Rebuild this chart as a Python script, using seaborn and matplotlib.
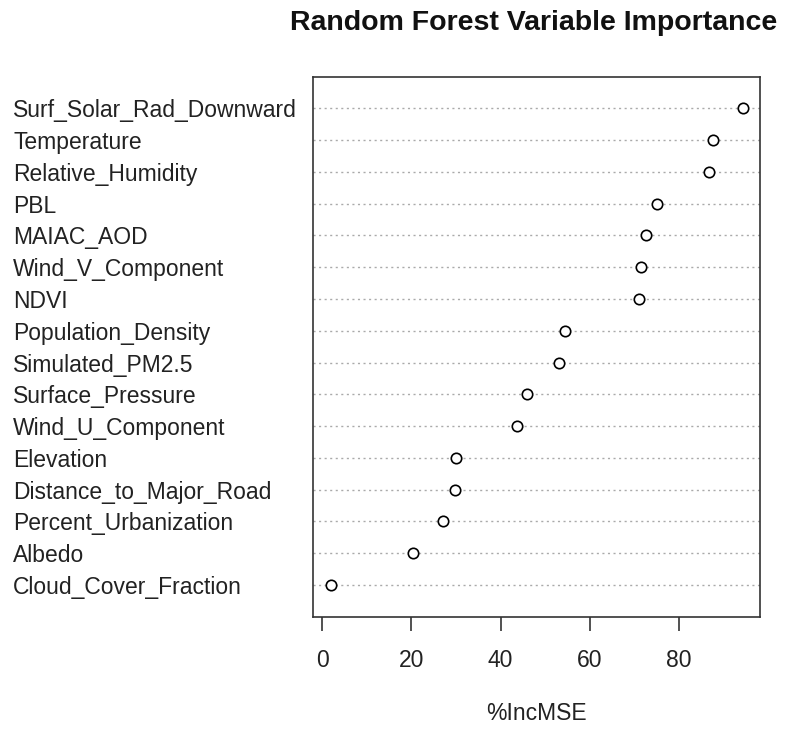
import matplotlib
matplotlib.use("Agg")
import matplotlib.pyplot as plt
import seaborn as sns
import pandas as pd

variables = [
    "Surf_Solar_Rad_Downward", "Temperature", "Relative_Humidity", "PBL",
    "MAIAC_AOD", "Wind_V_Component", "NDVI", "Population_Density",
    "Simulated_PM2.5", "Surface_Pressure", "Wind_U_Component", "Elevation",
    "Distance_to_Major_Road", "Percent_Urbanization", "Albedo",
    "Cloud_Cover_Fraction",
]
inc_mse = [94.4, 87.5, 86.6, 75.0, 72.6, 71.5, 70.9, 54.4,
           53.1, 45.9, 43.6, 30.1, 29.8, 27.1, 20.3, 1.9]
x_ticks = [0, 20, 40, 60, 80]

df = pd.DataFrame({"variable": variables, "IncMSE": inc_mse})

sns.set_style("white")
plt.rcParams["font.family"] = ["Liberation Sans", "DejaVu Sans"]

fig = plt.figure(figsize=(7.85, 7.33), dpi=100)
ax = fig.add_axes([0.399, 0.1587, 0.569, 0.7367])

sns.stripplot(data=df, x="IncMSE", y="variable", order=variables,
              orient="h", jitter=False, color="white", edgecolor="black",
              linewidth=1.2, size=7.5, ax=ax, zorder=3)

ax.grid(axis="y", linestyle=(0, (1.5, 2.5)), color="#aaaaaa", linewidth=1.0)
ax.grid(axis="x", visible=False)
ax.set_axisbelow(True)
ax.set_xlim(-2.0, 98.1)
ax.set_ylim(len(variables), -1)

for s in ax.spines.values():
    s.set_color("#333333")
    s.set_linewidth(1.2)

ax.set_xticks(x_ticks)
ax.set_xticklabels([str(t) for t in x_ticks], fontsize=16.5, color="#222222")
ax.tick_params(axis="x", direction="out", length=10, width=1.2,
               color="#333333", pad=13, bottom=True)
ax.tick_params(axis="y", length=0, pad=216, labelsize=16.5, labelcolor="#222222")
for lab in ax.get_yticklabels():
    lab.set_horizontalalignment("left")

ax.set_xlabel("%IncMSE", fontsize=16.5, color="#222222", labelpad=22)
ax.set_ylabel("")
fig.text(0.99, 0.969, "Random Forest Variable Importance", ha="right",
         va="center", fontsize=20.5, fontweight="bold", color="#111111")

fig.savefig("out.png", dpi=100)
